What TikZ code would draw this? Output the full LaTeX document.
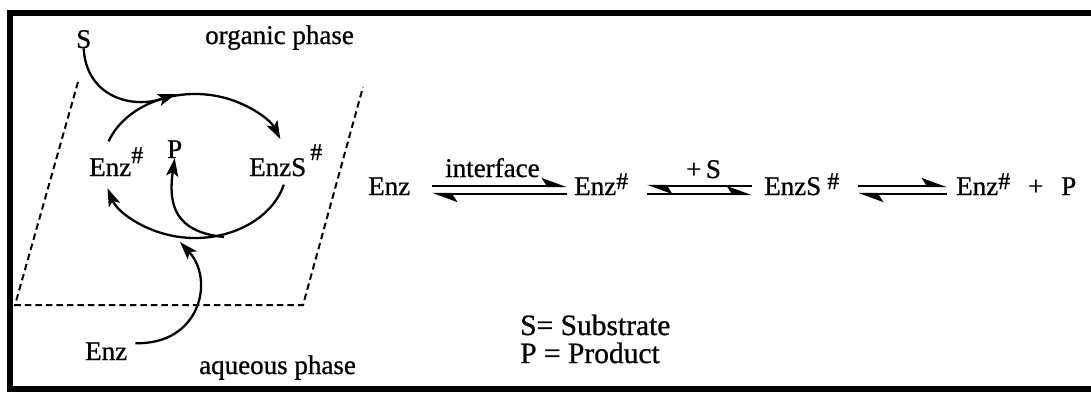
\documentclass[tikz,border=0pt]{standalone}
\usepackage{fontspec}
\setmainfont{Liberation Serif}[FakeBold=0.8]
\usetikzlibrary{arrows.meta}
\begin{document}
\begin{tikzpicture}[x=1pt,y=-1pt,
  lbl/.style={inner sep=0pt,anchor=base west,font=\fontsize{27}{30}\selectfont},
  leg/.style={inner sep=0pt,anchor=base west,font=\fontsize{29.5}{32}\selectfont},
  tip/.style={-{Stealth[length=18pt,width=12pt,inset=4pt]}},
  arr/.style={line width=2.3pt,tip},
  loopline/.style={line width=2.3pt,tip},
  dashline/.style={line width=2pt,dash pattern=on 6.5pt off 4pt},
  harp/.style={line width=2.4pt},
  hR/.style={harp,-{Stealth[harpoon,length=22pt,width=16pt,inset=5pt]}},
  hL/.style={harp,{Stealth[harpoon,length=22pt,width=16pt,inset=5pt]}-}
]
\useasboundingbox (0,0) rectangle (1091,392);
\begin{scope}
\clip (0,0) rectangle (1091,392);
\draw[line width=6pt] (10,13) rectangle (1120,389);
\end{scope}
\newcommand{\sh}[2]{\raisebox{#1pt}{\fontsize{#2}{#2}\selectfont\#}}
% left part
\node[lbl] (S) at (76,48) {S};
\node[lbl] (org) at (205,44) {organic phase};
\node[lbl] (aq) at (199,374) {aqueous phase};
\node[lbl] (enzA) at (85,360) {Enz};
\node[lbl] (enzL) at (89,176) {Enz\sh{13}{24}};
\node[lbl] (P) at (167,158) {P};
\node[lbl] (enzSL) at (249,176) {EnzS\hspace{4pt}\sh{16}{24}};
% loop
\coordinate (c) at (195,166);
\draw[loopline] (c) ++(160:92pt and 72pt) arc[start angle=160,end angle=22,x radius=92pt,y radius=72pt];
\draw[loopline] (c) ++(-15:92pt and 72pt) arc[start angle=-15,end angle=-162,x radius=92pt,y radius=72pt];
\coordinate (sTip) at (176,94);
\coordinate (pStart) at (224,237);
\coordinate (eTip) at (180,242);
\draw[arr] (S.south) .. controls (86,95) and (130,110) .. (sTip);
\draw[arr] (pStart) .. controls (175,232) and (168,205) .. (P.south);
\draw[arr] (enzA.east) ++(8,-8) .. controls (200,345) and (215,280) .. (eTip);
% dashed plane
\coordinate (d1) at (78,82);
\coordinate (d2) at (15,305);
\coordinate (d3) at (303,305);
\coordinate (d4) at (363,87);
\draw[dashline] (d1) -- (d2) -- (d3) -- (d4);
% equation
\node[lbl] (e1) at (368,195) {Enz};
\node[lbl] (e2) at (574,195) {Enz\sh{6}{24}};
\node[lbl] (e3) at (764,195) {EnzS\hspace{6pt}\sh{6}{24}};
\node[lbl] (e4) at (956,195) {Enz\sh{6}{24}};
\node[lbl] (plus) at (1028,195) {+};
\node[lbl] (pp) at (1061,195) {P};
\node[lbl] (intf) at (445,177) {interface};
\node[lbl] (pS) at (686,178) {+\,S};
\draw[hR] (432,186) -- (567,186);
\draw[hL] (432,194) -- (567,194);
\draw[hL] (647,186) -- (752,186);
\draw[hR] (647,194) -- (752,194);
\draw[hR] (858,186) -- (947,186);
\draw[hL] (858,194) -- (947,194);
% legend
\node[leg] (l1) at (520,335) {S= Substrate};
\node[leg] (l2) at (520,363) {P = Product};
\end{tikzpicture}
\end{document}
